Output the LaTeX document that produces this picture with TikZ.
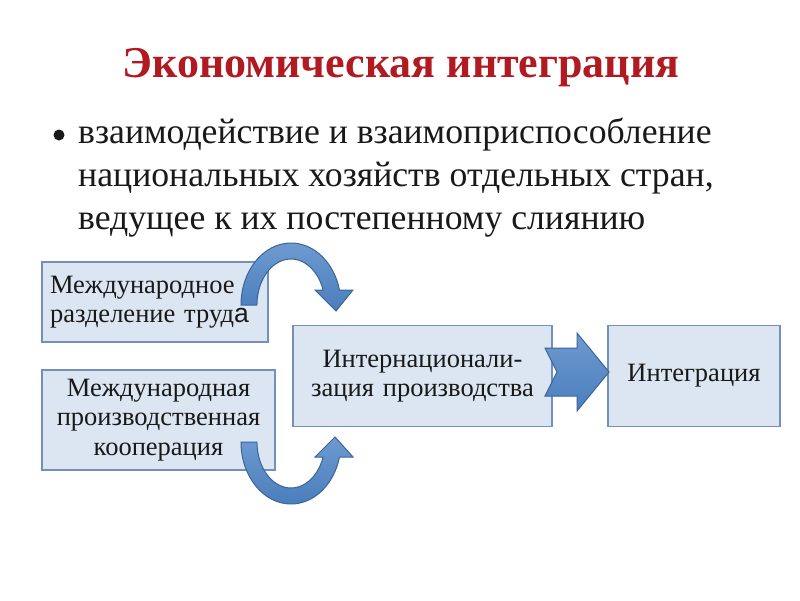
\documentclass[tikz,border=0pt]{standalone}
\usepackage{fontspec}
\setmainfont{Liberation Serif}
\newfontfamily\sansA{Liberation Sans}
\definecolor{boxfill}{HTML}{DCE6F2}
\definecolor{boxborder}{HTML}{7490B8}
\definecolor{titlered}{HTML}{B01A20}
\definecolor{arrfill}{HTML}{4A7EBB}
\definecolor{arredge}{HTML}{3A6599}
\definecolor{arrlight}{HTML}{6E9AD0}
\begin{document}
\begin{tikzpicture}[x=1pt,y=-1pt,
  boxst/.style={draw=boxborder, fill=boxfill, line width=1.5pt, inner ysep=0pt, inner xsep=8pt,
    font=\fontsize{26.5}{29.5}\selectfont, text=black!90},
  arrowst/.style={draw=arredge, line width=1pt, top color=arrlight, bottom color=arrfill},
  deftext/.style={anchor=base west, inner sep=0pt, font=\fontsize{35.7}{43}\selectfont, text=black!90}]
\useasboundingbox (0,0) rectangle (800,600);
\fill[white] (0,0) rectangle (800,600);

\node[anchor=base, font=\bfseries\fontsize{44}{50}\selectfont, text=titlered, inner sep=0pt] (title) at (401,77) {Экономическая интеграция};

\fill[black!90] (59,135) circle (5.5);
\node[deftext] (def1) at (78,143) {взаимодействие и взаимоприспособление};
\node[deftext] (def2) at (78,186) {национальных хозяйств отдельных стран,};
\node[deftext] (def3) at (78,229) {ведущее к их постепенному слиянию};

\node[boxst, minimum width=226, minimum height=80, text width=210, align=left] (b1) at (155,302)
  {Международное\\разделение труд{\sansA а}};
\node[boxst, minimum width=233, minimum height=100, text width=217, align=center] (b2) at (158.5,420)
  {Международная\\производственная\\кооперация};
\node[boxst, minimum width=259, minimum height=101, text width=243, align=center] (b3) at (422.5,376)
  {Интернационали-\\зация производства};
\node[boxst, minimum width=172, minimum height=101, text width=156, align=center] (b4) at (694,376)
  {Интеграция};

% curved arrow top
\path[arrowst] (241,305) arc[start angle=180, end angle=346, x radius=50, y radius=62]
  -- (353,290) -- (336,311) -- (315,290) -- (323.1,290)
  arc[start angle=340.97, end angle=180, x radius=34, y radius=46] -- cycle;
% curved arrow bottom
\path[arrowst] (241,442) arc[start angle=180, end angle=14, x radius=50, y radius=62]
  -- (353,457) -- (335,437) -- (315,457) -- (323.1,457)
  arc[start angle=19.03, end angle=180, x radius=34, y radius=46] -- cycle;

% block arrow b3 -> b4
\path[arrowst] (545,348) -- (577,348) -- (577,333) -- (609,372) -- (577,411) -- (577,396)
  -- (545,396) -- (557,372) -- cycle;
\end{tikzpicture}
\end{document}
